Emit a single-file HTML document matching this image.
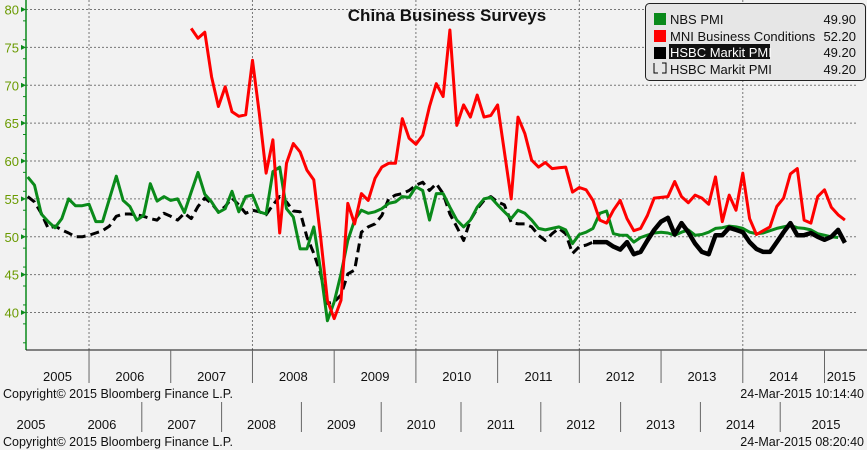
<!DOCTYPE html>
<html><head><meta charset="utf-8">
<style>
body{margin:0;background:#f2f2f2;}
svg{display:block;font-family:"Liberation Sans","DejaVu Sans",sans-serif;}
</style></head>
<body>
<svg id="c" width="867" height="450" viewBox="0 0 867 450">
<rect width="867" height="450" fill="#f2f2f2"/>
<g id="grid"></g>
<g id="series"></g>
<g id="axes"></g>
<text x="447" y="21" text-anchor="middle" font-size="17" font-weight="bold" fill="#111">China Business Surveys</text>
<g>
<rect x="645.5" y="3.5" width="220" height="77" rx="4" fill="#e6e6e6" stroke="#222" stroke-width="1"/>
<g><rect x="654" y="13" width="12" height="12" fill="#0a8a1a"/><text x="670" y="24" font-size="13" fill="#111">NBS PMI</text><text x="856" y="24" font-size="13" text-anchor="end" fill="#111">49.90</text></g>
<g><rect x="654" y="30" width="12" height="12" fill="#f00"/><text x="670" y="41" font-size="13" fill="#111">MNI Business Conditions</text><text x="856" y="41" font-size="13" text-anchor="end" fill="#111">52.20</text></g>
<g><rect x="654" y="47" width="12" height="12" fill="#000"/><rect x="669" y="44" width="101" height="15" fill="#111"/><text x="670" y="57" font-size="13" fill="#fff">HSBC Markit PMI</text><text x="856" y="57" font-size="13" text-anchor="end" fill="#111">49.20</text></g>
<g><path d="M654,63v10h4M662,73h4v-10h-4" fill="none" stroke="#000" stroke-width="1"/><text x="670" y="74" font-size="13" fill="#111">HSBC Markit PMI</text><text x="856" y="74" font-size="13" text-anchor="end" fill="#111">49.20</text></g>
</g>
<text x="3" y="398" font-size="12.5" fill="#111">Copyright© 2015 Bloomberg Finance L.P.</text>
<text x="864" y="398" font-size="12.5" text-anchor="end" fill="#111">24-Mar-2015 10:14:40</text>
<text x="3" y="446" font-size="12.5" fill="#111">Copyright© 2015 Bloomberg Finance L.P.</text>
<text x="864" y="446" font-size="12.5" text-anchor="end" fill="#111">24-Mar-2015 08:20:40</text>
</svg>
<script>
// data: monthly, month index 0 = Jan 2005
const nbsStart = 3;
const nbsValues = [57.9,56.8,53,52,51.2,52.4,55,54.1,54.1,54.3,52,52,55,58,54.8,54,52.2,52.8,57,54.7,55.3,54.8,55,53.2,55.9,58.5,55.6,54.6,53.2,53.7,56,53.3,55.3,55.5,53.3,53.0,58.6,59.2,53.7,52.6,48.4,48.4,51.3,45.6,38.9,41.4,45.1,49.5,52.2,53.5,53.1,53.3,53.7,54.4,54.6,55.3,55.2,56.6,56.1,52.2,55.7,55.7,53.9,52.2,51.3,52.2,53.9,55.0,55.2,54.2,53.3,52.4,53.5,53.1,52.2,51.1,50.9,51.1,51.3,50.9,49.1,50.3,50.6,51.1,53.1,53.4,50.4,50.2,50.2,49.3,49.9,50.2,50.5,50.6,50.5,50.2,50.6,50.9,50.2,50.3,50.6,51.1,51.2,51.4,51.3,51.1,50.6,50.4,50.5,50.8,51.1,51.3,51.5,51.2,51.1,50.9,50.4,50.2,50.0,49.9];
const mniStart = 27;
const mniValues = [77.5,76.2,77.0,71.1,67.2,69.8,66.5,65.9,66.1,73.3,66.3,58.4,62.8,50.5,59.7,62.3,61.2,58.8,57.5,50.0,41.6,39.2,41.6,54.4,51.7,55.7,54.8,57.7,59.2,59.7,59.7,65.6,63.0,62.2,63.4,67.2,70.2,68.5,77.3,64.7,67.4,65.8,68.7,65.8,66.0,67.4,61.2,55.0,65.8,63.6,60.1,59.2,59.8,59.0,59.1,59.2,55.9,56.5,56.2,54.8,52.2,51.8,53.5,54.8,52.4,50.8,51.1,52.8,55.1,55.2,55.3,57.3,55.3,54.5,55.5,55.1,54.3,57.9,52.0,55.5,53.5,58.4,52.4,50.3,50.8,51.3,54.0,55.1,58.3,59.0,52.2,51.8,55.3,56.2,53.9,52.9,52.2];
const hsbcOldStart = 3;
const hsbcOldValues = [55.3,54.6,53.1,51.1,51.4,50.9,50.5,50.0,50.0,50.2,50.5,50.8,51.4,52.7,53.0,53.0,52.9,52.7,52.4,52.2,53.1,52.7,52.2,53.1,52.4,54.0,55.1,54.4,53.3,54.0,55.1,54.2,53.1,53.5,53.3,52.9,54.2,55.3,54.6,53.4,53.3,50.0,47.8,45.1,41.2,41.4,42.3,45.1,45.6,50.6,51.3,51.7,52.8,55.0,55.5,55.7,56.1,56.8,57.2,56.1,57.0,55.7,53.0,51.3,49.5,52.2,53.7,54.8,55.3,54.6,54.2,51.9,51.7,51.7,51.3,50.2,49.5,50.4,51.1,50.4,47.8,48.7,48.9,49.3];
const hsbcStart = 86;
const hsbcValues = [49.3,49.3,49.3,48.7,48.3,49.3,47.7,48.0,49.5,50.9,52.0,52.5,50.3,51.8,50.6,49.1,48.0,47.7,50.2,50.2,51.2,50.9,50.6,49.3,48.4,48.0,48.0,49.3,50.6,51.8,50.2,50.2,50.5,50.0,49.6,50.0,50.9,49.2];
const yTicks = [40,45,50,55,60,65,70,75,80];
const yearLabels = ['2005','2006','2007','2008','2009','2010','2011','2012','2013','2014','2015'];

const NS='http://www.w3.org/2000/svg';
const xOf = m => 7.3 + m*6.81;
const yOf = v => 9.5 + (80 - v)*7.575;
const X0=26, X1=858, YB=350;
function mk(tag, attrs, parent){const e=document.createElementNS(NS,tag);for(const k in attrs)e.setAttribute(k,attrs[k]);parent.appendChild(e);return e;}
const grid=document.getElementById('grid'), axes=document.getElementById('axes'), ser=document.getElementById('series');

yTicks.forEach(v=>{
  const g=mk('line',{x1:X0,x2:X1,y1:yOf(v),y2:yOf(v),stroke:'#777','stroke-dasharray':'2,2','stroke-width':1},grid);
  
  
  const t=mk('text',{x:X0-7,y:yOf(v)+5,'text-anchor':'end','font-size':13,fill:'#6a9a00'},axes);
  t.textContent=v;
  
  
  mk('path',{d:`M${X0},${yOf(v)}l-5,-2.5v5z`,fill:'#0a8a1a'},axes);
});
for(let v=36;v<=80;v+=2.5){ if(v%5) mk('line',{x1:X0-3,x2:X0,y1:yOf(v),y2:yOf(v),stroke:'#0a8a1a'},axes);}
[1,3,5,7,9].forEach(i=>{
  const x=xOf(12*i);
  const g=mk('line',{x1:x,x2:x,y1:0,y2:YB,stroke:'#777','stroke-dasharray':'2,2'},grid);
  
  
});
mk('line',{x1:X0,x2:X0,y1:0,y2:YB,stroke:'#0a8a1a','stroke-width':1.5},axes);
mk('line',{x1:X0,x2:867,y1:YB,y2:YB,stroke:'#111','stroke-width':1},axes);
yearLabels.forEach((y,i)=>{
  const xs=Math.max(X0,xOf(12*i)), xe=Math.min(X1,xOf(12*(i+1)));
  if(i>0) mk('line',{x1:xOf(12*i),x2:xOf(12*i),y1:YB,y2:383,stroke:'#666'},axes);
  const t=mk('text',{x:(xs+xe)/2,y:381,'text-anchor':'middle','font-size':13,fill:'#111'},axes);
  t.textContent=y;
  
  
  const s0=62+79.8*(i-1), s1=62+79.8*i;
  if(i>0 && i<10) mk('line',{x1:s1,x2:s1,y1:402,y2:432,stroke:'#666'},axes);
  const t2=mk('text',{x:i==0?31:(i==10?826:(s0+s1)/2),y:429,'text-anchor':'middle','font-size':13,fill:'#111'},axes);
  t2.textContent=y;
  
  
});
function line(start, vals, color, w, dash, name){
  const d=vals.map((v,i)=>(i?'L':'M')+xOf(start+i).toFixed(1)+','+yOf(v).toFixed(1)).join('');
  const p=mk('path',{d,fill:'none',stroke:color,'stroke-width':w,'stroke-linejoin':'round'},ser);
  if(dash) p.setAttribute('stroke-dasharray',dash);
  
  
}
line(hsbcOldStart,hsbcOldValues,'#000',3,'9,5','hsbc-old-line');
line(nbsStart,nbsValues,'#0a8a1a',3,null,'nbs-pmi-line');
line(mniStart,mniValues,'#ff0000',3,null,'mni-line');
line(hsbcStart,hsbcValues,'#000',4.5,null,'hsbc-pmi-line');
</script>
</body></html>
